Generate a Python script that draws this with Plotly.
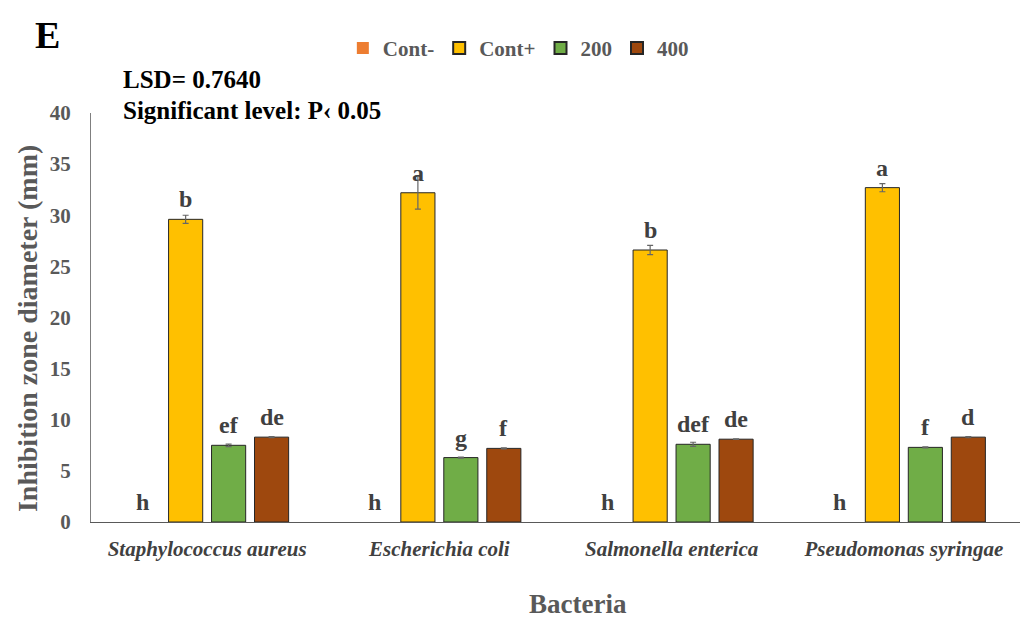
import plotly.graph_objects as go

# Inhibition zone data per bacterium and treatment
bacteria = ["Staphylococcus aureus", "Escherichia coli", "Salmonella enterica", "Pseudomonas syringae"]
series_names = ["Cont-", "Cont+", "200", "400"]
colors = ["#ED7D31", "#FFC000", "#70AD47", "#9E480E"]

cont_neg = [0, 0, 0, 0]
cont_pos = [29.6, 32.2, 26.6, 32.7]
conc_200 = [7.5, 6.3, 7.6, 7.3]
conc_400 = [8.3, 7.2, 8.1, 8.3]

err_neg = [0, 0, 0, 0]
err_pos = [0.4, 1.6, 0.45, 0.4]
err_200 = [0.12, 0.05, 0.2, 0.05]
err_400 = [0.05, 0.04, 0.03, 0.06]

letters_neg = ["h", "h", "h", "h"]
letters_pos = ["b", "a", "b", "a"]
letters_200 = ["ef", "g", "def", "f"]
letters_400 = ["de", "f", "de", "d"]

values = [cont_neg, cont_pos, conc_200, conc_400]
errors = [err_neg, err_pos, err_200, err_400]
letters = [letters_neg, letters_pos, letters_200, letters_400]

serif = "Liberation Serif"
gray_text = "#595959"
pitch = 0.185      # spacing between neighbouring bars inside a group
bar_w = 0.147

fig = go.Figure()
for k, name in enumerate(series_names):
    xs = [i + (k - 1.5) * pitch for i in range(len(bacteria))]
    show_err = k != 0
    fig.add_trace(go.Bar(
        x=xs, y=values[k], name=name, width=bar_w,
        marker=dict(color=colors[k],
                    line=dict(color="#262626", width=1 if k else 0)),
        error_y=dict(type="data", array=errors[k], visible=show_err,
                     color="#666666", thickness=1.2, width=3),
    ))
    for i, txt in enumerate(letters[k]):
        fig.add_annotation(x=xs[i], y=values[k][i], text=f"<b>{txt}</b>",
                           showarrow=False, yanchor="bottom", yshift=5,
                           font=dict(family=serif, size=24, color="#404040"))

# Panel letter and statistics text
fig.add_annotation(xref="paper", yref="paper", x=-0.062, y=1.19, xanchor="left",
                   yanchor="middle", text="<b>E</b>", showarrow=False,
                   font=dict(family=serif, size=38, color="black"))
fig.add_annotation(xref="paper", yref="paper", x=0.032, y=1.083, xanchor="left",
                   yanchor="middle", text="<b>LSD= 0.7640</b>", showarrow=False,
                   font=dict(family=serif, size=25, color="black"))
fig.add_annotation(xref="paper", yref="paper", x=0.032, y=1.005, xanchor="left",
                   yanchor="middle", text="<b>Significant level: P‹ 0.05</b>", showarrow=False,
                   font=dict(family=serif, size=25, color="black"))

# Axis titles
fig.add_annotation(xref="paper", yref="paper", x=0.524, y=-0.2, xanchor="center",
                   yanchor="middle", text="<b>Bacteria</b>", showarrow=False,
                   font=dict(family=serif, size=27, color=gray_text))
fig.add_annotation(xref="paper", yref="paper", x=-0.069, y=0.474, xanchor="center",
                   yanchor="middle", text="<b>Inhibition zone diameter (mm)</b>",
                   showarrow=False, textangle=-90,
                   font=dict(family=serif, size=28, color=gray_text))

fig.update_layout(
    width=1027, height=619,
    margin=dict(l=91, r=7, t=113, b=97),
    paper_bgcolor="white", plot_bgcolor="white",
    barmode="overlay",
    showlegend=True,
    legend=dict(orientation="h", x=0.46, xanchor="center", y=1.158, yanchor="middle",
                font=dict(family=serif, size=21, color=gray_text, weight="bold"),
                itemwidth=30, tracegroupgap=0, itemsizing="constant",
                traceorder="normal"),
    xaxis=dict(range=[-0.5, 3.5], tickvals=list(range(len(bacteria))), ticktext=bacteria,
               showgrid=False, zeroline=False, showline=True, linecolor="#595959",
               linewidth=1.2, ticks="", ticklabelstandoff=8,
               tickfont=dict(family=serif, size=21, color="#404040",
                             weight="bold", style="italic")),
    yaxis=dict(range=[0, 40], dtick=5, showgrid=False, zeroline=False, showline=True,
               linecolor="#7f7f7f", linewidth=1, ticks="", ticklabelstandoff=15,
               tickfont=dict(family=serif, size=21, color=gray_text, weight="bold")),
)

fig.write_html("out.html")
